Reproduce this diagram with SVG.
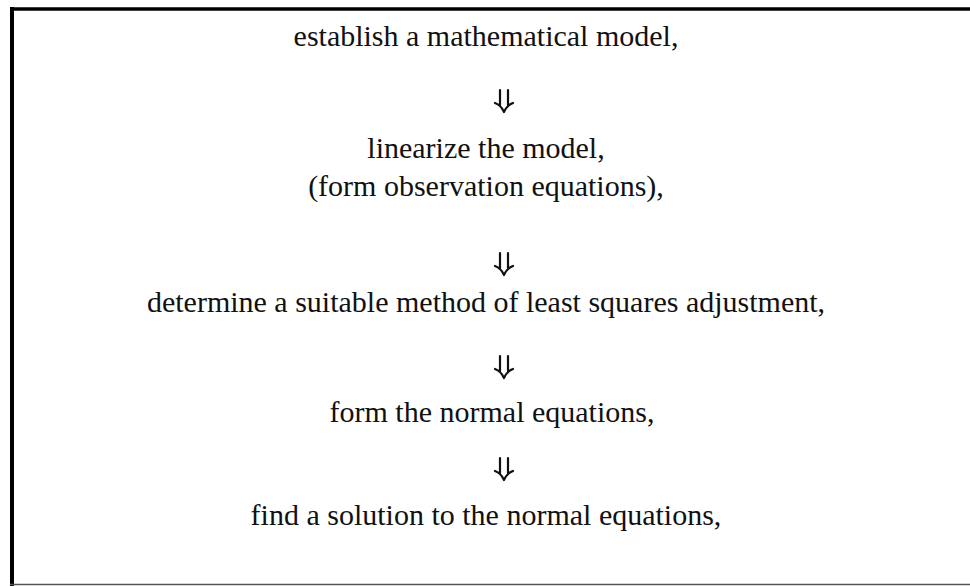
<svg xmlns="http://www.w3.org/2000/svg" width="970" height="586" viewBox="0 0 970 586">
<defs>
<style>
.t{font-family:"Liberation Serif","DejaVu Serif",serif;font-size:30px;fill:#111;text-anchor:middle}
.a{fill:none;stroke:#111;stroke-width:2.2;stroke-linecap:round;stroke-linejoin:round}
</style>
<path id="arr" class="a" d="M-4,0 V15 M4,0 V15 M-9,13 Q-3,15 0,22 Q3,15 9,13"/>
</defs>
<rect width="970" height="586" fill="#fff"/>
<g id="frame">
<line x1="10" y1="9" x2="970" y2="9" stroke="#000" stroke-width="3.5"/>
<line x1="12" y1="7" x2="12" y2="586" stroke="#000" stroke-width="4"/>
<line x1="10" y1="584.5" x2="970" y2="584.5" stroke="#555" stroke-width="1.5"/>
</g>
<g id="n1"><text class="t" x="486" y="46">establish a mathematical model,</text></g>
<g id="n2"><text class="t" x="486" y="158">linearize the model,</text><text class="t" x="486" y="196">(form observation equations),</text></g>
<g id="n3"><text class="t" x="486" y="312">determine a suitable method of least squares adjustment,</text></g>
<g id="n4"><text class="t" x="492" y="422">form the normal equations,</text></g>
<g id="n5"><text class="t" x="486" y="525">find a solution to the normal equations,</text></g>
<g id="connectors">
<use href="#arr" x="504" y="90"/>
<use href="#arr" x="504" y="253"/>
<use href="#arr" x="504" y="356"/>
<use href="#arr" x="504" y="458"/>
</g>
</svg>
